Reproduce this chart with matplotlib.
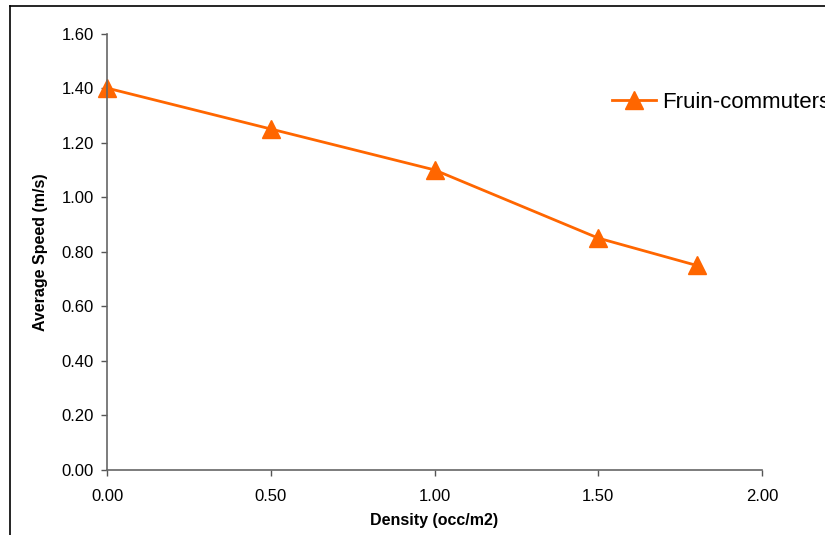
import matplotlib
matplotlib.use("Agg")
import matplotlib.pyplot as plt
from matplotlib.lines import Line2D

# Fruin commuters: walking speed vs crowd density
density = [0.0, 0.5, 1.0, 1.5, 1.8]
speed = [1.40, 1.25, 1.10, 0.85, 0.75]
series_label = "Fruin-commuters"
xticks = [0.0, 0.5, 1.0, 1.5, 2.0]
yticks = [0.0, 0.2, 0.4, 0.6, 0.8, 1.0, 1.2, 1.4, 1.6]

plt.rcParams["font.family"] = ["Liberation Sans", "DejaVu Sans"]

fig = plt.figure(figsize=(8.25, 5.35), dpi=100)
ax = fig.add_axes([107 / 825, 1 - 470 / 535, (762 - 107) / 825, (470 - 33.5) / 535])

ax.plot(density, speed, color="#FF6600", lw=2, marker="^", ms=13.5,
        clip_on=False, label=series_label)

ax.set_xlim(0, 2.0)
ax.set_ylim(0, 1.6)
ax.set_xticks(xticks)
ax.set_yticks(yticks)
ax.set_xticklabels([f"{v:.2f}" for v in xticks])
ax.set_yticklabels([f"{v:.2f}" for v in yticks])
ax.tick_params(labelsize=12, length=4.5, width=1, color="#555555", pad=5)
ax.tick_params(axis="x", pad=9)
for side in ("top", "right"):
    ax.spines[side].set_visible(False)
for side in ("left", "bottom"):
    ax.spines[side].set_color("#666666")
    ax.spines[side].set_linewidth(1.2)

ax.set_xlabel("Density (occ/m2)", fontsize=11.5, fontweight="bold", labelpad=7)
ax.set_ylabel("Average Speed (m/s)", fontsize=11.5, fontweight="bold", labelpad=10)

fig.legend(loc="center left", bbox_to_anchor=(612 / 825, 1 - 102 / 535),
           frameon=False, fontsize=16, handlelength=2.0, handletextpad=0.25,
           borderaxespad=0, borderpad=0)

# outer chart frame (partly cut off at right and bottom)
fig.add_artist(Line2D([10 / 825, 10 / 825], [0, 1 - 6 / 535],
                      transform=fig.transFigure, color="black", lw=1.2))
fig.add_artist(Line2D([10 / 825, 1], [1 - 6 / 535, 1 - 6 / 535],
                      transform=fig.transFigure, color="black", lw=1.2))

fig.savefig("out.png", dpi=100)
